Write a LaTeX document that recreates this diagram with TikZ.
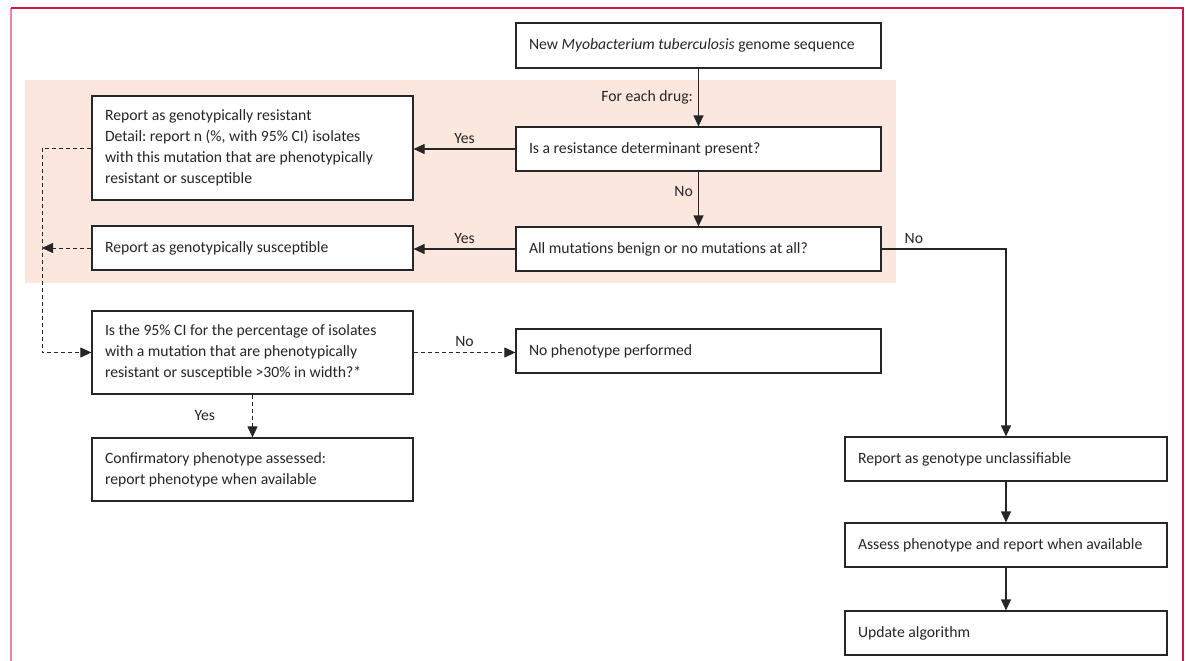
\documentclass[tikz,border=0pt]{standalone}
\usepackage{fontspec}
\setmainfont{Carlito}
\usetikzlibrary{arrows.meta}

\definecolor{framered}{HTML}{D21445}
\definecolor{framepink}{HTML}{E6889F}
\definecolor{bandfill}{HTML}{FCE7DE}
\definecolor{inkgray}{HTML}{262626}

\tikzset{
  stepbox/.style={draw=inkgray, line width=1.2pt, fill=white, text=inkgray, align=flush left, inner xsep=13pt, inner ysep=0pt},
  flow/.style={draw=inkgray, line width=1.2pt, -{Triangle[length=11pt,width=10pt]}},
  dflow/.style={flow, line width=1pt, dash pattern=on 4pt off 3pt},
  lbl/.style={text=inkgray, inner sep=5pt}
}

\begin{document}
\begin{tikzpicture}[x=1pt, y=-1pt, font=\fontsize{15.7}{21}\selectfont\frenchspacing]

\useasboundingbox (0, 0) rectangle (1187, 661);

\draw [draw=none,fill=bandfill] (25, 80) rectangle (896, 283);
\draw [framepink,line width=2pt] (11, 8) -- (11, 661);
\draw [framered,line width=1.5pt] (11, 8) -- (1183, 8) -- (1183, 661);

\node[stepbox,text width=339pt,minimum height=45pt] (new) at (698.5, 45.5) {New \textit{Myobacterium tuberculosis} genome sequence};
\node[stepbox,text width=339pt,minimum height=44pt] (q1) at (698.5, 149) {Is a resistance determinant present?};
\node[stepbox,text width=339pt,minimum height=44pt] (q2) at (698.5, 249) {All mutations benign or no mutations at all?};

\node[stepbox,text width=295pt,minimum height=104pt] (res) at (252.5, 148) {Report as genotypically resistant\\Detail: report n (\%, with 95\% CI) isolates\\with this mutation that are phenotypically\\resistant or susceptible};
\node[stepbox,text width=295pt,minimum height=44pt] (sus) at (252.5, 248) {Report as genotypically susceptible};
\node[stepbox,text width=295pt,minimum height=83pt] (ci) at (252.5, 352.5) {Is the 95\% CI for the percentage of isolates\\with a mutation that are phenotypically\\resistant or susceptible >30\% in width?*};
\node[stepbox,text width=295pt,minimum height=63pt] (conf) at (252.5, 469.5) {Confirmatory phenotype assessed:\\report phenotype when available};
\node[stepbox,text width=339pt,minimum height=44pt] (nopheno) at (698.5, 351) {No phenotype performed};

\node[stepbox,text width=296pt,minimum height=44pt] (uncl) at (1006, 459) {Report as genotype unclassifiable};
\node[stepbox,text width=296pt,minimum height=44pt] (assess) at (1006, 545) {Assess phenotype and report when available};
\node[stepbox,text width=296pt,minimum height=44pt] (update) at (1006, 633) {Update algorithm};

\coordinate (lane) at (42, 248);

\draw [flow] (new) -- node[lbl,left] {For each drug:} (q1);
\draw [flow] (q1) -- node[lbl,left,pos=0.36] {No} (q2);
\draw [flow] (q1.west) -- node[lbl,above] {Yes} (q1.west -| res.east);
\draw [flow] (q2.west) -- node[lbl,above] {Yes} (q2.west -| sus.east);
\draw [flow] (q2.east) -| node[lbl,above,pos=0.13] {No} (uncl.north);
\draw [flow] (uncl) -- (assess);
\draw [flow] (assess) -- (update);

\draw [dflow] (res.west) -| (lane) |- (ci.west);
\draw [dflow] (sus.west) -- (lane);
\draw [dflow] (ci.east) -- node[lbl,above] {No} (ci.east -| nopheno.west);
\draw [dflow] (ci) -- node[lbl,left,xshift=-32pt] {Yes} (conf);

\end{tikzpicture}
\end{document}
